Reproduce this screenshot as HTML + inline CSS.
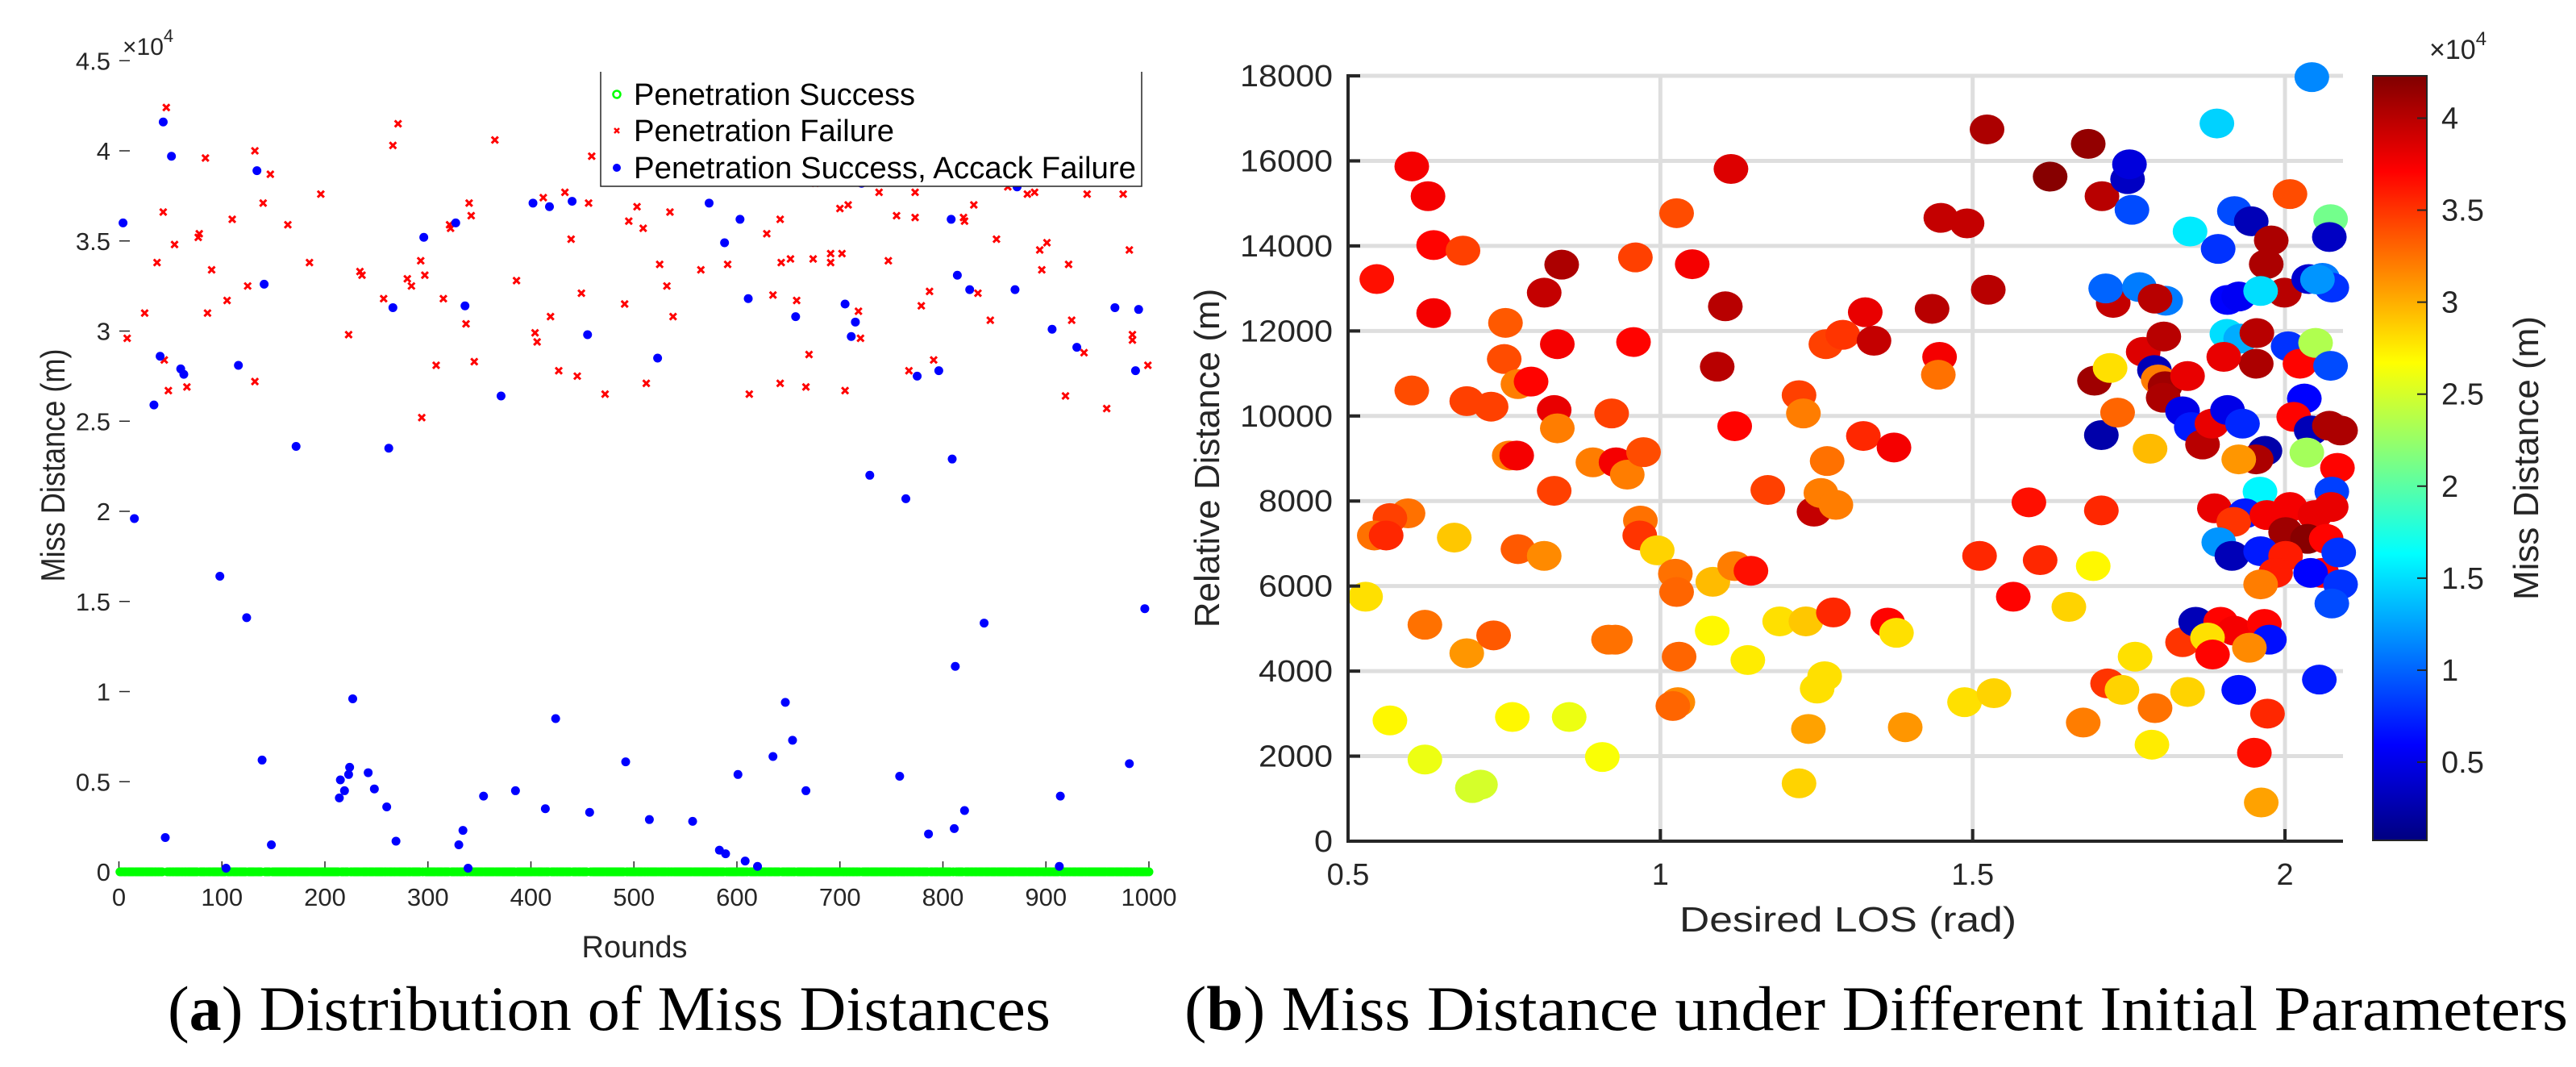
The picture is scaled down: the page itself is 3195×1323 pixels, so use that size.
<!DOCTYPE html>
<html><head><meta charset="utf-8"><style>
html,body{margin:0;padding:0;background:#fff;}
svg{display:block;}
text{font-family:"Liberation Sans",Arial,sans-serif;}
.cap{font-family:"Liberation Serif","Times New Roman",serif;}
</style></head><body>
<svg id="fig" width="3195" height="1323" viewBox="0 0 3195 1323" xmlns="http://www.w3.org/2000/svg">
<defs>
<linearGradient id="jet" x1="0" y1="1" x2="0" y2="0">
<stop offset="0" stop-color="#000080"/><stop offset="0.125" stop-color="#0000ff"/><stop offset="0.375" stop-color="#00ffff"/><stop offset="0.625" stop-color="#ffff00"/><stop offset="0.875" stop-color="#ff0000"/><stop offset="1" stop-color="#800000"/>
</linearGradient>
</defs>
<g id="left"></g>
<g id="right"></g>
<text class="cap" x="208" y="1277" font-size="78" textLength="1095" lengthAdjust="spacingAndGlyphs">(<tspan font-weight="bold">a</tspan>) Distribution of Miss Distances</text>
<text class="cap" x="1469" y="1277" font-size="78" textLength="1716" lengthAdjust="spacingAndGlyphs">(<tspan font-weight="bold">b</tspan>) Miss Distance under Different Initial Parameters</text>
</svg>
<script>
// ---------- Left chart data ----------
const failRounds=[46,8,25,37,43,44,48,54,66,77,78,84,86,90,105,110,125,132,132,140,147,164,185,196,223,234,236,257,266,271,280,284,293,294,297,308,315,321,322,337,340,342,345,365,386,404,406,412,419,427,433,439,445,449,456,459,472,491,495,503,509,512,525,532,535,538,565,591,612,629,635,642,643,642,652,658,667,670,674,691,691,700,702,705,708,718,720,738,747,755,767,773,779,787,791,820,821,830,834,846,852,882,889,894,896,901,919,922,925,937,940,959,975,981,984,984,999,773,676,863,721];
const failValues=[4.24,2.96,3.10,3.38,3.66,2.84,2.67,3.48,2.69,3.52,3.54,3.96,3.10,3.34,3.17,3.62,3.25,4.00,2.72,3.71,3.87,3.59,3.38,3.76,2.98,3.33,3.31,3.18,4.03,4.15,3.29,3.25,3.39,2.52,3.31,2.81,3.18,3.59,3.57,3.04,3.71,3.64,2.83,4.06,3.28,2.99,2.94,3.74,3.08,2.78,3.77,3.51,2.75,3.21,3.71,3.97,2.65,3.15,3.61,3.69,3.57,2.71,3.37,3.25,3.66,3.08,3.34,3.37,2.65,3.54,3.20,3.62,3.38,2.71,3.40,3.17,2.69,2.87,3.40,3.43,3.38,3.68,3.43,2.67,3.70,3.11,2.96,3.77,3.39,3.64,2.78,3.63,3.14,3.22,2.84,3.63,3.61,3.70,3.21,3.06,3.51,3.76,3.77,3.45,3.34,3.49,2.64,3.37,3.06,2.88,3.76,2.57,3.76,3.45,2.95,2.98,2.81,3.77,3.82,3.80,3.82];
const attackRounds=[4,15,34,40,43,45,51,60,63,98,104,116,124,134,139,141,148,172,214,215,219,223,224,227,242,248,260,262,266,269,296,327,330,334,336,339,354,371,385,402,414,418,424,440,455,457,492,515,523,557,573,583,588,589,601,603,608,611,620,635,647,654,657,667,705,711,715,729,758,764,775,786,796,808,809,811,812,814,821,826,840,870,872,906,913,914,930,967,981,987,990,996,721];
const attackValues=[3.60,1.96,2.59,2.86,4.16,0.19,3.97,2.79,2.76,1.64,0.02,2.81,1.41,3.89,0.62,3.26,0.15,2.36,0.41,0.51,0.45,0.54,0.58,0.96,0.55,0.46,0.36,2.35,3.13,0.17,3.52,3.60,0.15,0.23,3.14,0.02,0.42,2.64,0.45,3.71,0.35,3.69,0.85,3.72,2.98,0.33,0.61,0.29,2.85,0.28,3.71,0.12,3.49,0.10,0.54,3.62,0.06,3.18,0.03,0.64,0.94,0.73,3.08,0.45,3.15,2.97,3.05,2.20,0.53,2.07,2.75,0.21,2.78,3.62,2.29,0.24,1.14,3.31,0.34,3.23,1.38,3.23,3.80,3.01,0.03,0.42,2.91,3.13,0.60,2.78,3.12,1.46,3.82];
const leftXTicks=[0,100,200,300,400,500,600,700,800,900,1000];
const leftYTicks=[0,0.5,1,1.5,2,2.5,3,3.5,4,4.5];

// ---------- Right chart data ----------
const losValues=[0.602,0.628,0.546,0.637,0.684,0.637,0.602,0.752,0.750,0.772,0.793,0.690,0.729,0.814,0.842,0.835,0.830,0.835,0.758,0.770,0.830,0.596,0.567,0.542,0.561,0.670,0.772,0.814,0.528,0.623,0.690,0.733,0.567,0.623,0.699,0.712,0.763,0.854,0.907,0.917,0.928,0.892,0.929,0.922,0.947,0.973,0.957,0.960,0.968,0.967,0.995,1.026,1.051,1.024,1.026,1.084,1.083,1.028,1.020,1.030,1.113,1.104,1.091,1.119,1.119,1.145,1.140,1.172,1.191,1.222,1.229,1.233,1.222,1.237,1.251,1.263,1.246,1.257,1.281,1.267,1.277,1.265,1.292,1.328,1.342,1.325,1.374,1.364,1.378,1.392,1.435,1.449,1.447,1.445,1.491,1.523,1.525,1.487,1.534,1.511,1.565,1.590,1.608,1.624,1.654,1.677,1.685,1.707,1.695,1.693,1.706,1.706,1.732,1.720,1.716,1.739,1.725,1.713,1.767,1.755,1.748,1.751,1.809,1.792,1.773,1.806,1.791,1.797,1.808,1.805,1.844,1.784,1.760,1.792,1.787,1.836,1.844,1.848,1.891,1.893,1.908,1.926,1.919,1.946,1.978,1.970,1.999,2.008,1.907,1.929,1.955,1.954,1.902,1.836,1.850,1.868,1.883,1.908,1.932,1.968,1.954,1.926,2.005,2.024,2.049,2.073,2.031,2.014,2.042,2.071,2.089,2.035,2.084,2.075,1.960,1.887,1.936,1.918,1.971,2.008,2.048,2.074,2.001,2.036,2.066,1.894,1.915,1.961,2.001,1.985,2.059,2.086,2.041,2.089,2.075,1.961,1.857,1.897,1.919,1.967,1.975,1.876,1.943,1.884,2.055,1.926,1.972,1.951,1.962,2.043,2.073,2.071,2.060,2.075,2.038,2.052,1.961];
const relDistValues=[15870,15170,13220,14020,13890,12420,10600,12190,11340,10750,10810,10350,10220,12900,13560,11690,10140,9710,9070,9070,8240,7710,7600,7190,7190,7140,6870,6710,5750,5090,4420,4840,2840,1920,1250,1330,2920,2920,1980,4740,4740,8910,8910,10060,8620,9150,11740,13730,7540,7190,6840,14770,13570,6290,5860,6100,4950,3270,3180,4340,15810,12580,11160,9760,6470,6360,4260,8260,5170,10490,10060,5170,1360,2640,3590,3880,7750,8190,7910,8940,5380,11690,11910,12440,11770,9530,9260,5140,4900,2680,12520,14660,11390,10970,14530,16740,12970,3270,3480,6710,5750,7970,6610,15630,5510,2790,16400,15170,10830,6470,7780,9550,10080,11130,3710,3560,12660,13000,13030,14850,15570,15920,12710,12760,11510,11870,11080,10860,10700,10430,10940,9230,4340,3130,2270,4680,3510,14340,16880,13930,12730,12810,14820,14580,14130,13570,12900,15220,11930,11820,11950,11230,11390,10110,9740,9330,9820,10140,9820,9180,8980,8980,11640,11230,11720,11180,10410,9980,9660,9770,9660,9140,8780,8220,8220,7830,7710,7510,7670,7860,7670,7860,7270,7110,7110,7030,6710,6820,6710,6310,6310,6790,6310,6040,5590,6040,5160,5160,4950,5110,4740,4790,4550,4390,3800,3560,3000,2080,910,17970,14630,14210,13250,13020,13220,13210,12940];
const missValues=[3.75,3.75,3.65,3.7,3.45,3.75,3.4,3.35,3.4,3.2,3.7,3.45,3.45,3.95,4.05,3.75,3.8,3.2,3.2,3.75,3.45,3.25,3.45,3.25,3.55,2.9,3.35,3.15,2.8,3.25,3.1,3.35,2.7,2.6,2.5,2.5,2.7,2.6,2.65,3.25,3.25,3.2,3.75,3.45,3.2,3.4,3.7,3.45,3.25,3.5,2.85,3.4,3.75,3.25,3.3,2.95,2.7,3.15,3.3,3.3,3.85,4.0,4.0,3.7,3.2,3.65,2.75,3.45,2.8,3.45,3.2,2.9,2.85,3.05,2.8,2.8,3.95,3.2,3.2,3.25,3.55,3.45,3.5,3.8,3.95,3.55,3.75,3.7,2.8,3.1,4.0,3.95,3.75,3.25,3.95,4.05,4.0,2.8,2.85,3.55,3.7,3.65,3.55,4.2,2.85,3.2,4.15,4.0,4.1,2.7,3.55,0.25,3.3,2.8,3.5,2.85,3.95,1.0,1.1,0.9,0.35,0.45,1.1,4.0,3.85,4.0,0.3,3.2,4.1,4.05,3.8,2.95,2.8,3.25,2.75,3.5,2.85,1.55,1.45,0.8,0.6,0.55,0.9,0.3,4.05,4.05,4.0,3.4,1.5,1.3,4.0,4.05,3.8,0.5,0.7,4.0,3.8,0.5,0.75,0.25,4.05,3.1,0.8,3.7,2.35,0.9,0.6,3.7,0.3,4.05,4.05,2.3,3.7,0.85,1.6,3.8,0.7,3.5,3.75,3.75,3.8,3.8,4.1,4.2,3.7,1.2,0.3,0.7,3.6,3.6,3.7,0.8,0.6,0.8,0.9,3.2,0.3,3.7,3.75,3.7,0.65,2.8,3.15,3.7,0.7,0.65,3.55,3.65,3.05,1.15,2.1,0.35,1.1,0.8,0.4,1.2,1.5];
const rightXTicks=[0.5,1,1.5,2];
const rightXTickLabels=["0.5","1","1.5","2"];
const rightYTicks=[0,2000,4000,6000,8000,10000,12000,14000,16000,18000];
const cbTicks=[0.5,1,1.5,2,2.5,3,3.5,4];
const cbRange=[0.075,4.23];

const NS="http://www.w3.org/2000/svg";
function mk(parent,tag,attrs,txt){const e=document.createElementNS(NS,tag);for(const k in attrs)e.setAttribute(k,attrs[k]);if(txt!==undefined)e.textContent=txt;parent.appendChild(e);return e;}

// ---------- Left chart ----------
const L=document.getElementById('left');
const lx=v=>147.5+v*1.2775;
const ly=v=>1081-v*223.5;
leftYTicks.forEach(t=>{
  const tk=mk(L,'line',{x1:148,x2:161,y1:ly(t),y2:ly(t),stroke:'#262626','stroke-width':1.5});
  
  
  const lb=mk(L,'text',{x:137,y:ly(t)+11,'font-size':31,'text-anchor':'end',fill:'#262626'},String(t));
  
  
});
leftXTicks.forEach(t=>{
  const tk=mk(L,'line',{x1:lx(t),x2:lx(t),y1:1081,y2:1068,stroke:'#262626','stroke-width':1.5});
  
  
  const lb=mk(L,'text',{x:lx(t),y:1123,'font-size':31,'text-anchor':'middle',fill:'#262626'},String(t));
  
  
});
const ex=mk(L,'text',{x:152,y:68,'font-size':30,fill:'#262626'});


ex.innerHTML='×10<tspan dy="-16" font-size="22">4</tspan>';
const used=new Set([...failRounds,...attackRounds]);
const gG=mk(L,'g',{});


for(let r=1;r<=1000;r++){ if(used.has(r)) continue;
  const c=mk(gG,'circle',{cx:lx(r),cy:ly(0),r:5.5,fill:'#00ff00'});
  
  
}
const gR=mk(L,'g',{});


failRounds.forEach((r,i)=>{
  const x=lx(r),y=ly(failValues[i]),s=4;
  const p=mk(gR,'path',{d:`M${x-s} ${y-s}L${x+s} ${y+s}M${x-s} ${y+s}L${x+s} ${y-s}`,stroke:'#ff0000','stroke-width':3});
  
  
});
const gB=mk(L,'g',{});


attackRounds.forEach((r,i)=>{
  const c=mk(gB,'circle',{cx:lx(r),cy:ly(attackValues[i]),r:5.5,fill:'#0000ff'});
  
  
});
const lg=mk(L,'g',{});


mk(lg,'rect',{x:745,y:89,width:671,height:142,fill:'#fff',stroke:'none'});
mk(lg,'path',{d:'M745 89V231H1416V89',fill:'none',stroke:'#262626','stroke-width':1.5});
const le1=mk(lg,'circle',{cx:765,cy:117,r:4.5,fill:'none',stroke:'#00ff00','stroke-width':2.5});


const lt1=mk(lg,'text',{x:786,y:130,'font-size':38,textLength:349,lengthAdjust:'spacingAndGlyphs',fill:'#000'},'Penetration Success');


const le2=mk(lg,'path',{d:'M762 159L768 165M762 165L768 159',stroke:'#ff0000','stroke-width':2.5});


const lt2=mk(lg,'text',{x:786,y:175,'font-size':38,textLength:323,lengthAdjust:'spacingAndGlyphs',fill:'#000'},'Penetration Failure');


const le3=mk(lg,'circle',{cx:765,cy:208,r:5,fill:'#0000ff'});


const lt3=mk(lg,'text',{x:786,y:221,'font-size':38,textLength:623,lengthAdjust:'spacingAndGlyphs',fill:'#000'},'Penetration Success, Accack Failure');


const yt=mk(L,'text',{x:0,y:0,'font-size':42,'text-anchor':'middle',fill:'#262626',textLength:289,lengthAdjust:'spacingAndGlyphs',transform:'translate(80,577) rotate(-90)'},'Miss Distance (m)');


const xt=mk(L,'text',{x:787,y:1187,'font-size':38,'text-anchor':'middle',fill:'#262626'},'Rounds');



// ---------- Right chart ----------
const R=document.getElementById('right');
const rx=v=>1672+(v-0.5)*774.7;
const ry=v=>1043-v*0.05272;
const right=2906;
function jet(v){
  let t=(v-cbRange[0])/(cbRange[1]-cbRange[0]);t=Math.max(0,Math.min(1,t));
  const f=x=>Math.max(0,Math.min(1,x));
  const r=f(Math.min(4*t-1.5,-4*t+4.5)),g=f(Math.min(4*t-0.5,-4*t+3.5)),b=f(Math.min(4*t+0.5,-4*t+2.5));
  return `rgb(${Math.round(r*255)},${Math.round(g*255)},${Math.round(b*255)})`;
}
rightYTicks.forEach(t=>{ if(t===0)return;
  const g=mk(R,'line',{x1:1672,x2:right,y1:ry(t),y2:ry(t),stroke:'#dedede','stroke-width':5});
  
  
});
rightXTicks.forEach(t=>{ if(t===0.5)return;
  const g=mk(R,'line',{x1:rx(t),x2:rx(t),y1:ry(18000),y2:1043,stroke:'#dedede','stroke-width':5});
  
  
});
const gP=mk(R,'g',{});


losValues.forEach((v,i)=>{
  const e=mk(gP,'ellipse',{cx:rx(v),cy:ry(relDistValues[i]),rx:21.5,ry:18.5,fill:jet(missValues[i])});
  
  
});
const ax=mk(R,'path',{d:`M1672 92V1043H${right}`,fill:'none',stroke:'#262626','stroke-width':4});


rightYTicks.forEach(t=>{
  const tk=mk(R,'line',{x1:1672,x2:1687,y1:ry(t),y2:ry(t),stroke:'#262626','stroke-width':4});
  
  
  const lb=mk(R,'text',{x:1653,y:ry(t)+13,'font-size':38,'text-anchor':'end',fill:'#262626',textLength:String(t).length*23,lengthAdjust:'spacingAndGlyphs'},String(t));
  
  
});
rightXTicks.forEach((t,i)=>{
  const tk=mk(R,'line',{x1:rx(t),x2:rx(t),y1:1043,y2:1028,stroke:'#262626','stroke-width':4});
  
  
  const lb=mk(R,'text',{x:rx(t),y:1097,'font-size':38,'text-anchor':'middle',fill:'#262626'},rightXTickLabels[i]);
  
  
});
const rxt=mk(R,'text',{x:2292,y:1155,'font-size':44,'text-anchor':'middle',fill:'#262626',textLength:418,lengthAdjust:'spacingAndGlyphs'},'Desired LOS (rad)');


const ryt=mk(R,'text',{x:0,y:0,'font-size':44,'text-anchor':'middle',fill:'#262626',transform:'translate(1512,568) rotate(-90)'},'Relative Distance (m)');


const cbT=94,cbB=1042,cbL=2943,cbR=3010;
const cy=v=>cbB-(v-cbRange[0])/(cbRange[1]-cbRange[0])*(cbB-cbT);
const cb=mk(R,'rect',{x:cbL,y:cbT,width:cbR-cbL,height:cbB-cbT,fill:'url(#jet)',stroke:'#262626','stroke-width':2});


cbTicks.forEach(t=>{
  const tk=mk(R,'line',{x1:cbR-12,x2:cbR,y1:cy(t),y2:cy(t),stroke:'#262626','stroke-width':2});
  
  
  const lb=mk(R,'text',{x:3028,y:cy(t)+13,'font-size':38,fill:'#262626'},String(t));
  
  
});
const cex=mk(R,'text',{x:3013,y:73,'font-size':34,fill:'#262626'});


cex.innerHTML='×10<tspan dy="-17" font-size="24">4</tspan>';
const cbl=mk(R,'text',{x:0,y:0,'font-size':44,'text-anchor':'middle',fill:'#262626',transform:'translate(3148,568) rotate(-90)'},'Miss Distance (m)');


</script>
</body></html>
